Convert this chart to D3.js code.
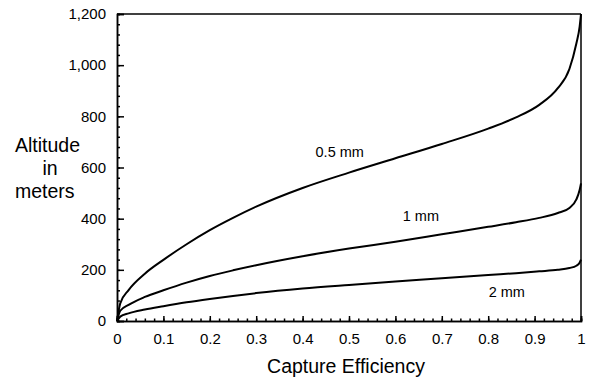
<!DOCTYPE html>
<html>
<head>
<meta charset="utf-8">
<script src="https://cdn.jsdelivr.net/npm/d3@7"></script>
<style>
  body { margin: 0; background: #fff; }
  text { font-family: "Liberation Sans", Arial, sans-serif; fill: #000; }
  .axis path, .axis line { stroke: #000; stroke-width: 1.5; }
  .axis text { font-size: 15px; }
</style>
</head>
<body>
<div class="chart"></div>
<script>
// capture efficiency values (x) and altitude (m) for each drop size
var efficiency = [0, 0.007, 0.025, 0.06, 0.1, 0.15, 0.2, 0.25, 0.3, 0.4, 0.5, 0.6, 0.7, 0.8, 0.86, 0.91, 0.95, 0.975, 0.99, 0.997, 1];
var alt05mm = [0, 69, 121, 185, 239, 300, 355, 403, 447, 520, 580, 636, 692, 752, 796, 845, 910, 985, 1085, 1150, 1200];
var alt1mm  = [0, 40, 63, 94, 120, 150, 176, 198, 218, 253, 283, 310, 339, 368, 386, 403, 422, 442, 475, 512, 538];
var alt2mm  = [0, 17, 30, 45, 58, 73, 86, 98, 109, 127, 141, 154, 167, 180, 187, 194, 200, 207, 216, 228, 240];

var seriesNames = ["0.5 mm", "1 mm", "2 mm"];
var xTicks = [0, 0.1, 0.2, 0.3, 0.4, 0.5, 0.6, 0.7, 0.8, 0.9, 1];
var yTicks = [0, 200, 400, 600, 800, 1000, 1200];

var svgWidth = 590;
var svgHeight = 381;
var margin = { top: 14, right: 9, bottom: 60, left: 117 };
var width = svgWidth - margin.left - margin.right;
var height = svgHeight - margin.top - margin.bottom;

var svg = d3.select(".chart")
  .append("svg")
  .attr("width", svgWidth)
  .attr("height", svgHeight);

var chartGroup = svg.append("g")
  .attr("transform", `translate(${margin.left}, ${margin.top})`);

var x = d3.scaleLinear().domain([0, 1]).range([0, width]);
var y = d3.scaleLinear().domain([0, 1200]).range([height, 0]);

// minor ticks
chartGroup.append("g")
  .attr("class", "axis")
  .attr("transform", `translate(0, ${height})`)
  .call(d3.axisBottom(x).tickValues(d3.range(0, 1.0001, 0.02)).tickSize(-2.5).tickFormat(""));
chartGroup.append("g")
  .attr("class", "axis")
  .call(d3.axisLeft(y).tickValues(d3.range(0, 1201, 40)).tickSize(-3).tickFormat(""));

// major ticks
chartGroup.append("g")
  .attr("class", "axis")
  .attr("transform", `translate(0, ${height})`)
  .call(d3.axisBottom(x).tickValues(xTicks).tickSize(-5).tickPadding(12)
    .tickFormat(d => d === 0 ? "0" : d === 1 ? "1" : d3.format(".1f")(d)));
chartGroup.append("g")
  .attr("class", "axis")
  .call(d3.axisLeft(y).tickValues(yTicks).tickSize(-7).tickPadding(11).tickFormat(d3.format(",")));

// top and right frame
chartGroup.append("line")
  .attr("x1", 0).attr("x2", width).attr("y1", 0).attr("y2", 0)
  .attr("stroke", "#000").attr("stroke-width", 1.5);
chartGroup.append("line")
  .attr("x1", width).attr("x2", width).attr("y1", 0).attr("y2", height)
  .attr("stroke", "#000").attr("stroke-width", 1.5);

var line = d3.line()
  .x((d, i) => x(efficiency[i]))
  .y(d => y(d))
  .curve(d3.curveMonotoneX);

[alt05mm, alt1mm, alt2mm].forEach(function(vals) {
  chartGroup.append("path")
    .datum(vals)
    .attr("fill", "none")
    .attr("stroke", "#000")
    .attr("stroke-width", 2)
    .attr("d", line);
});

// curve labels
var labelPos = [[0.48, 640], [0.655, 390], [0.84, 95]];
seriesNames.forEach(function(name, i) {
  chartGroup.append("text")
    .attr("x", x(labelPos[i][0]))
    .attr("y", y(labelPos[i][1]))
    .attr("text-anchor", "middle")
    .style("font-size", "14.5px")
    .text(name);
});

// axis titles
svg.append("text")
  .attr("x", margin.left + width / 2 - 3)
  .attr("y", 373)
  .attr("text-anchor", "middle")
  .style("font-size", "19.5px")
  .text("Capture Efficiency");

var yTitle = svg.append("text").style("font-size", "19.5px");
yTitle.append("tspan").attr("x", 15).attr("y", 152).text("Altitude");
yTitle.append("tspan").attr("x", 50).attr("y", 175).attr("text-anchor", "middle").text("in");
yTitle.append("tspan").attr("x", 15).attr("y", 198).text("meters");
</script>
</body>
</html>
